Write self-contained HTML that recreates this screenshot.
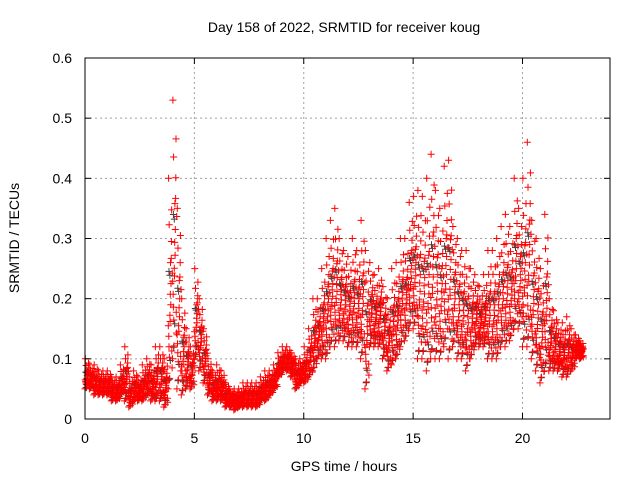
<!DOCTYPE html>
<html><head><meta charset="utf-8"><style>
body{margin:0;background:#fff;}
svg text{font-family:"Liberation Sans",sans-serif;font-size:14px;fill:#000;}
</style></head><body>
<svg id="chart" width="640" height="480">
<rect width="640" height="480" fill="#fff"/>
<g id="grid"></g>
<g id="pts"></g>
<rect x="85" y="58" width="525" height="361" fill="none" stroke="#000" stroke-width="1"/>
<g id="ticks"></g>
<text x="344" y="32" text-anchor="middle">Day 158 of 2022, SRMTID for receiver koug</text>
<text x="344" y="471" text-anchor="middle">GPS time / hours</text>
<text transform="translate(19,238) rotate(-90)" text-anchor="middle">SRMTID / TECUs</text>
</svg>
<script>
const xTicks=[0,5,10,15,20];
const yTicks=[0,0.1,0.2,0.3,0.4,0.5,0.6];
const yTickLabels=["0","0.1","0.2","0.3","0.4","0.5","0.6"];
const tStep=0.2;
const lowVals=[.05,.05,.04,.04,.04,.04,.03,.03,.04,.03,.02,.03,.03,.03,.04,.03,.03,.03,.02,.05,.10,.05,.04,.05,.05,.10,.08,.06,.04,.03,.03,.03,.02,.02,.015,.02,.02,.02,.02,.02,.03,.03,.04,.05,.07,.08,.08,.07,.05,.06,.06,.07,.08,.10,.10,.10,.12,.12,.13,.13,.12,.12,.12,.10,.05,.12,.12,.12,.10,.08,.09,.10,.12,.13,.15,.15,.10,.10,.08,.10,.10,.10,.12,.10,.12,.10,.10,.08,.10,.12,.12,.12,.10,.10,.10,.12,.12,.13,.15,.15,.12,.12,.10,.08,.06,.08,.08,.08,.08,.07,.07,.08,.10,.10];
const highVals=[.10,.09,.09,.08,.08,.08,.07,.07,.09,.12,.07,.08,.07,.09,.10,.09,.12,.12,.10,.40,.53,.35,.20,.15,.12,.25,.20,.15,.10,.08,.09,.08,.06,.05,.05,.05,.06,.06,.06,.06,.07,.08,.08,.09,.11,.12,.12,.11,.10,.10,.12,.15,.20,.20,.25,.30,.33,.35,.30,.28,.27,.30,.28,.33,.28,.26,.24,.25,.22,.20,.25,.26,.30,.30,.36,.37,.38,.37,.40,.44,.38,.35,.42,.43,.32,.30,.28,.28,.25,.24,.22,.24,.28,.28,.30,.32,.34,.32,.40,.35,.40,.46,.33,.30,.25,.34,.20,.18,.16,.16,.17,.15,.14,.13];
const X0=85,X1=610,Y0=419,Y1=58,XMAX=24,YMAX=0.6;
const xs=v=>X0+(X1-X0)*v/XMAX, ys=v=>Y0-(Y0-Y1)*v/YMAX;
const NS="http://www.w3.org/2000/svg";
const grid=document.getElementById('grid'),ticks=document.getElementById('ticks'),pts=document.getElementById('pts');
function mk(tag,at,parent){const e=document.createElementNS(NS,tag);for(const k in at)e.setAttribute(k,at[k]);parent.appendChild(e);return e;}
xTicks.forEach(v=>{const x=xs(v);
 if(v>0){const g=mk('line',{x1:x,x2:x,y1:Y0,y2:Y1,stroke:'#a0a0a0','stroke-dasharray':'2,3'},grid);
 
 }
 mk('line',{x1:x,x2:x,y1:Y0,y2:Y0-6,stroke:'#000'},ticks);mk('line',{x1:x,x2:x,y1:Y1,y2:Y1+6,stroke:'#000'},ticks);
 const t=mk('text',{x:x,y:443,'text-anchor':'middle'},ticks);t.textContent=v;
 
 });
yTicks.forEach((v,i)=>{const y=ys(v);
 if(v>0&&v<YMAX){const g=mk('line',{x1:X0,x2:X1,y1:y,y2:y,stroke:'#a0a0a0','stroke-dasharray':'2,3'},grid);
 
 }
 mk('line',{x1:X0,x2:X0+6,y1:y,y2:y,stroke:'#000'},ticks);mk('line',{x1:X1,x2:X1-6,y1:y,y2:y,stroke:'#000'},ticks);
 const t=mk('text',{x:72,y:y+5,'text-anchor':'end'},ticks);t.textContent=yTickLabels[i];
 
 });
const fr=[0,.6,.2,.85,.35,1,.5,.15,.1,.3,.45,.7,.25,.05,.55,.4,.78,.18,.32,.62];
const xo=[0,.55,.2,.8,.4,.1,.65,.3,.9,.05,.5,.75,.15,.35,.95,.6,.25,.85,.45,.7];
let dRed='',dBlk='';
function plus(x,y){return `M${(x-3.5).toFixed(1)},${y.toFixed(1)}h7M${x.toFixed(1)},${(y-3.5).toFixed(1)}v7`;}
lowVals.forEach((lo,i)=>{const hi=highVals[i],t=i*tStep;
 fr.forEach((f,k)=>{const x=xs(t+xo[k]*tStep),y=ys(lo+(hi-lo)*f);
  if(k%6==1)dBlk+=plus(xs(t+xo[(k+3)%20]*tStep),ys(lo+(hi-lo)*f*0.9));
  dRed+=plus(x,y);});});
const pb=mk('path',{d:dBlk,stroke:'#404040','stroke-width':1,fill:'none'},pts);


const pr=mk('path',{d:dRed,stroke:'#ff0000','stroke-width':1,fill:'none'},pts);


</script>
</body></html>
